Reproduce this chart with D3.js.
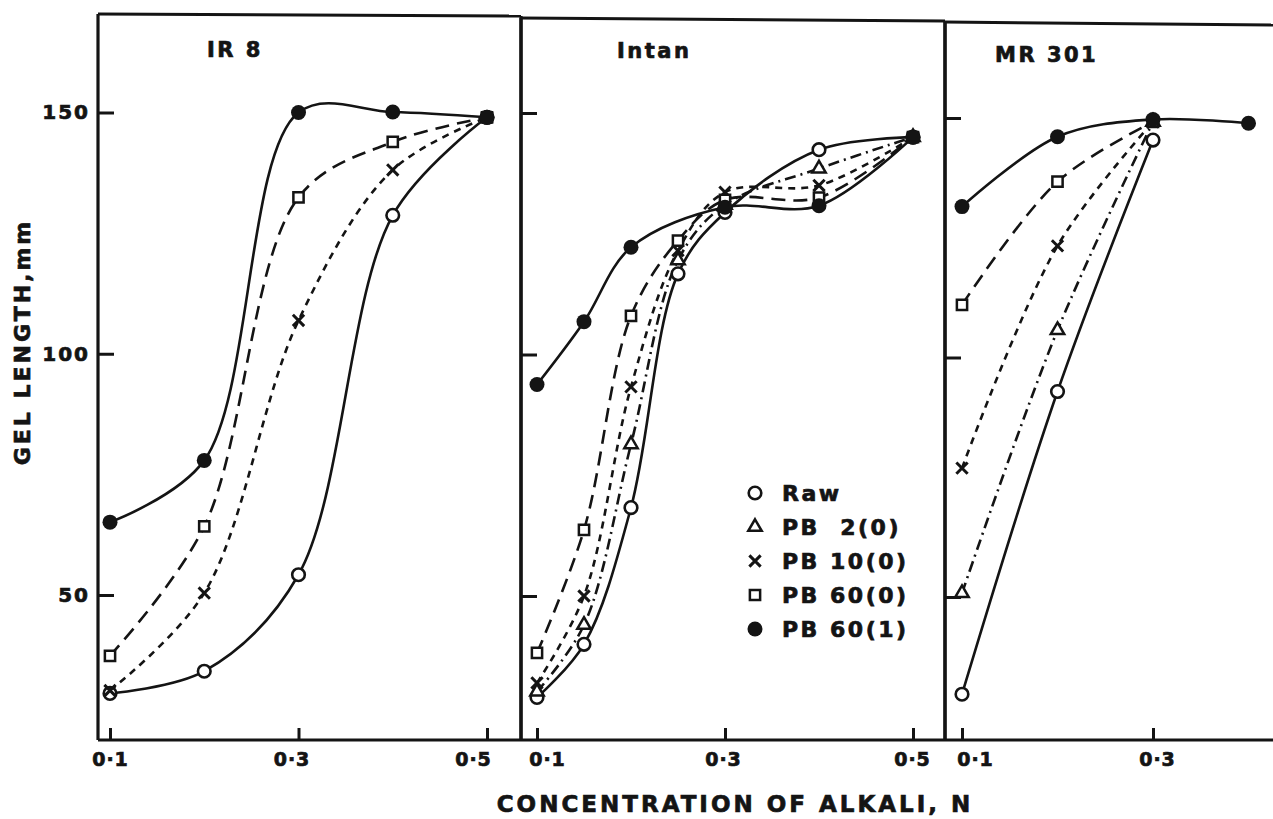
<!DOCTYPE html>
<html>
<head>
<meta charset="utf-8">
<script src="https://cdn.jsdelivr.net/npm/d3@7"></script>
<style>
  html, body { margin: 0; padding: 0; background: #fff; }
  svg { display: block; }
  text { font-family: "DejaVu Sans", sans-serif; font-weight: bold; fill: #141414;
         stroke: #141414; stroke-width: 0.7px; }
</style>
</head>
<body>
<svg id="chart" width="1273" height="819"></svg>
<script>
// Gel length (mm) against alkali concentration (N) for three rice varieties.

const panelNames = ["IR 8", "Intan", "MR 301"];
const seriesNames = ["Raw", "PB  2(0)", "PB 10(0)", "PB 60(0)", "PB 60(1)"];

const yTicks = [50, 100, 150];
const yTickLabels = ["50", "100", "150"];
const xTicksWide = [0.1, 0.3, 0.5];
const xTickLabelsWide = ["0·1", "0·3", "0·5"];
const xTicksShort = [0.1, 0.3];
const xTickLabelsShort = ["0·1", "0·3"];

// IR 8  — [concentration, gel length]
const ir8Raw   = [[0.1, 29.6], [0.2, 34.2], [0.3, 54.2], [0.4, 128.7], [0.5, 149]];
const ir8Pb10  = [[0.1, 30.2], [0.2, 50.4], [0.3, 106.9], [0.4, 138.1], [0.5, 149]];
const ir8Pb60  = [[0.1, 37.4], [0.2, 64.2], [0.3, 132.4], [0.4, 143.9], [0.5, 149]];
const ir8Pb60b = [[0.1, 65.1], [0.2, 77.9], [0.3, 150], [0.4, 150.1], [0.5, 149]];

// Intan
const intanRaw   = [[0.1, 29.0], [0.15, 40.0], [0.2, 68.3], [0.25, 116.7], [0.3, 129.4], [0.4, 142.4], [0.5, 145]];
const intanPb2   = [[0.1, 30.2], [0.15, 44.0], [0.2, 81.4], [0.25, 119.5], [0.3, 131.0], [0.4, 138.5], [0.5, 145]];
const intanPb10  = [[0.1, 32.0], [0.15, 50.0], [0.2, 93.3], [0.25, 121.5], [0.3, 133.6], [0.4, 135.0], [0.5, 145]];
const intanPb60  = [[0.1, 38.2], [0.15, 63.7], [0.2, 108.0], [0.25, 123.6], [0.3, 132.0], [0.4, 132.5], [0.5, 145]];
const intanPb60b = [[0.1, 93.8], [0.15, 106.8], [0.2, 122.2], [0.3, 130.5], [0.4, 130.8], [0.5, 145]];

// MR 301
const mr301Raw   = [[0.1, 29.7], [0.2, 92.9], [0.3, 145.4]];
const mr301Pb2   = [[0.1, 50.8], [0.2, 105.7], [0.3, 149.2]];
const mr301Pb10  = [[0.1, 76.9], [0.2, 123.3], [0.3, 149.2]];
const mr301Pb60  = [[0.1, 111.0], [0.2, 136.7], [0.3, 149.2]];
const mr301Pb60b = [[0.1, 131.5], [0.2, 146.1], [0.3, 149.7], [0.4, 148.9]];

// series order follows seriesNames
const panelSeries = [
  [ir8Raw, null, ir8Pb10, ir8Pb60, ir8Pb60b],
  [intanRaw, intanPb2, intanPb10, intanPb60, intanPb60b],
  [mr301Raw, mr301Pb2, mr301Pb10, mr301Pb60, mr301Pb60b]
];
const panelXTicks = [xTicksWide, xTicksWide, xTicksShort];
const panelXTickLabels = [xTickLabelsWide, xTickLabelsWide, xTickLabelsShort];

// ---- drawing ----
const svg = d3.select("#chart");
const ink = "#141414";
const bottom = 740;

const frames = [
  { left: 98,  right: 521,  topL: 14, topR: 16, xDomain: [0.1, 0.5], xRange: [110, 487],  y50: 595, y150: 112.5, labelDx: [0, -7, -14], title: [207, 57] },
  { left: 521, right: 945,  topL: 18, topR: 21, xDomain: [0.1, 0.5], xRange: [537, 913],  y50: 596, y150: 113,   labelDx: [10, -2, -1], title: [617, 58] },
  { left: 945, right: 1273, topL: 22, topR: 25, xDomain: [0.1, 0.3], xRange: [962, 1153], y50: 597, y150: 118,   labelDx: [13, 4],      title: [995, 62] }
];

const styles = [
  { symbol: "circle",   dash: null },
  { symbol: "triangle", dash: "11,5,2,5" },
  { symbol: "times",    dash: "7,6" },
  { symbol: "square",   dash: "14,8" },
  { symbol: "disc",     dash: null }
];

function marker(g, kind, cx, cy) {
  const t = `translate(${cx},${cy})`;
  if (kind === "circle") {
    g.append("circle").attr("cx", cx).attr("cy", cy).attr("r", 6.3)
      .attr("fill", "#fff").attr("stroke", ink).attr("stroke-width", 2.6);
  } else if (kind === "disc") {
    g.append("circle").attr("cx", cx).attr("cy", cy).attr("r", 7.5)
      .attr("fill", ink);
  } else if (kind === "triangle") {
    g.append("path").attr("transform", t)
      .attr("d", d3.symbol(d3.symbolTriangle, 78)())
      .attr("fill", "#fff").attr("stroke", ink).attr("stroke-width", 2.5);
  } else if (kind === "square") {
    g.append("path").attr("transform", t)
      .attr("d", d3.symbol(d3.symbolSquare, 105)())
      .attr("fill", "#fff").attr("stroke", ink).attr("stroke-width", 2.5);
  } else if (kind === "times") {
    g.append("path").attr("transform", t)
      .attr("d", d3.symbol(d3.symbolTimes, 85)())
      .attr("fill", "none").attr("stroke", ink).attr("stroke-width", 3);
  }
}

frames.forEach((f, i) => {
  const x = d3.scaleLinear().domain(f.xDomain).range(f.xRange);
  const y = d3.scaleLinear().domain([50, 150]).range([f.y50, f.y150]);
  const g = svg.append("g");

  // frame: top border and dividers
  g.append("line").attr("x1", f.left).attr("y1", f.topL).attr("x2", f.right).attr("y2", f.topR)
    .attr("stroke", ink).attr("stroke-width", 3);
  g.append("line").attr("x1", f.left).attr("y1", f.topL).attr("x2", f.left).attr("y2", bottom)
    .attr("stroke", ink).attr("stroke-width", 3.2);
  if (i < frames.length - 1) {
    g.append("line").attr("x1", f.right).attr("y1", f.topR).attr("x2", f.right).attr("y2", bottom)
      .attr("stroke", ink).attr("stroke-width", 3.2);
  }

  // y axis (inward ticks; labels only on the first panel)
  const yAxis = d3.axisLeft(y).tickValues(yTicks).tickSizeInner(-16).tickSizeOuter(0).tickPadding(8)
    .tickFormat((d, k) => i === 0 ? yTickLabels[k] : "");
  const ya = g.append("g").attr("transform", `translate(${f.left},0)`).call(yAxis);
  ya.select(".domain").remove();
  ya.selectAll(".tick line").attr("stroke", ink).attr("stroke-width", 3);
  ya.selectAll(".tick text").attr("font-size", 20).attr("letter-spacing", 2)
    .attr("font-family", "DejaVu Sans").attr("font-weight", "bold").attr("fill", ink);

  // x axis
  const xt = panelXTicks[i], xl = panelXTickLabels[i];
  const xAxis = d3.axisBottom(x).tickValues(xt).tickSizeInner(-12).tickSizeOuter(0).tickPadding(13)
    .tickFormat((d, k) => xl[k]);
  const xa = g.append("g").attr("transform", `translate(0,${bottom})`).call(xAxis);
  xa.select(".domain").remove();
  xa.selectAll(".tick line").attr("stroke", ink).attr("stroke-width", 3);
  xa.selectAll(".tick text").attr("font-size", 19).attr("letter-spacing", 1)
    .attr("font-family", "DejaVu Sans").attr("font-weight", "bold").attr("fill", ink)
    .attr("dx", (d, k) => f.labelDx[k]);

  // panel title
  g.append("text").attr("x", f.title[0]).attr("y", f.title[1])
    .attr("font-size", 21).attr("letter-spacing", 2.5).text(panelNames[i]);

  // curves
  const line = d3.line().x(d => x(d[0])).y(d => y(d[1])).curve(d3.curveCatmullRom.alpha(0.5));
  const series = panelSeries[i];
  series.forEach((s, k) => {
    if (!s) return;
    g.append("path").attr("d", line(s)).attr("fill", "none")
      .attr("stroke", ink).attr("stroke-width", 2.6)
      .attr("stroke-dasharray", styles[k].dash);
  });
  // markers, filled discs last
  series.forEach((s, k) => {
    if (!s) return;
    s.forEach(p => marker(g, styles[k].symbol, x(p[0]), y(p[1])));
  });
});

// bottom axis line across all panels
svg.append("line").attr("x1", 98).attr("y1", bottom).attr("x2", 1273).attr("y2", bottom)
  .attr("stroke", ink).attr("stroke-width", 3.2);

// legend
const legend = svg.append("g");
seriesNames.forEach((name, k) => {
  const cy = 493 + k * 34;
  marker(legend, styles[k].symbol, 755, cy);
  legend.append("text").attr("x", 782).attr("y", cy + 8)
    .attr("font-size", 22).attr("letter-spacing", 2.5)
    .attr("xml:space", "preserve").style("white-space", "pre")
    .text(name);
});

// axis titles
svg.append("text").attr("x", 735).attr("y", 812).attr("text-anchor", "middle")
  .attr("font-size", 23).attr("letter-spacing", 3).text("CONCENTRATION OF ALKALI, N");
svg.append("text").attr("transform", "translate(30,342) rotate(-90)").attr("text-anchor", "middle")
  .attr("font-size", 22).attr("letter-spacing", 3).text("GEL LENGTH,mm");
</script>
</body>
</html>
